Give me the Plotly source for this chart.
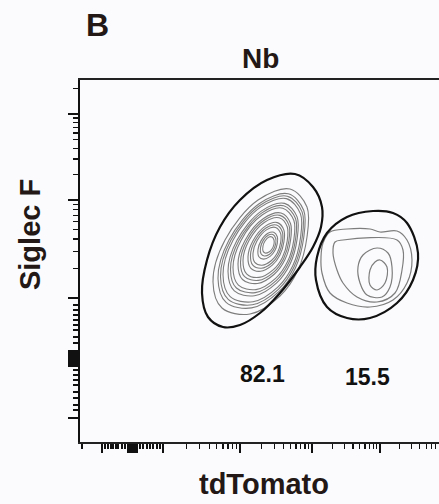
import numpy as np
import plotly.graph_objects as go

# ---------------- data (display channel units) ----------------
panel_letter = "B"
panel_title = "Nb"
x_title = "tdTomato"
y_title = "Siglec F"
gate_percent = [82.1, 15.5]

# gate outlines
gate1_x = [215, 233, 242, 241, 233, 220, 200, 180, 160, 143, 128, 122, 127, 140, 160, 187]
gate1_y = [268, 255, 235, 215, 195, 175, 149, 129, 117, 115, 125, 149, 182, 215, 242, 262]
gate2_x = [293, 313, 327, 338, 333, 317, 290, 267, 247, 236, 237, 247, 267]
gate2_y = [231, 229, 219, 189, 162, 139, 124, 124, 135, 162, 185, 209, 225]

# contour levels, population 1 (tdTomato-)
big_rings_x = [
    [210, 227, 227, 218, 200, 170, 142, 133, 145, 178],
    [208.2, 223.7, 223.7, 215.4, 198.9, 171.5, 146.1, 138, 149, 179.1],
    [207.3, 222.1, 222.1, 214.1, 198.4, 172.3, 148.2, 140.5, 151, 179.7],
    [206.4, 220.4, 220.4, 212.8, 197.8, 173, 150.2, 143, 153, 180.2],
    [204.6, 217.1, 217.1, 210.2, 196.7, 174.5, 154.3, 148, 157, 181.3],
    [203.7, 215.5, 215.5, 208.9, 196.2, 175.3, 156.4, 150.5, 159, 181.9],
    [202.8, 213.8, 213.8, 207.6, 195.6, 176, 158.4, 153, 161, 182.4],
    [201, 210.5, 210.5, 205, 194.5, 177.5, 162.5, 158, 165, 183.5],
    [200.1, 208.9, 208.9, 203.7, 194, 178.3, 164.6, 160.5, 167, 184.1],
    [199.2, 207.2, 207.2, 202.4, 193.4, 179, 166.6, 163, 169, 184.6],
    [197.4, 203.9, 203.9, 199.8, 192.3, 180.5, 170.7, 168, 173, 185.7],
    [196.5, 202.3, 202.3, 198.5, 191.8, 181.3, 172.8, 170.5, 175, 186.3],
    [195.6, 200.6, 200.6, 197.2, 191.2, 182, 174.8, 173, 177, 186.8],
    [193.8, 197.3, 197.3, 194.6, 190.1, 183.5, 178.9, 178, 181, 187.9],
    [192.9, 195.7, 195.7, 193.3, 189.6, 184.3, 181, 180.5, 183, 188.5],
    [192, 194, 194, 192, 189, 185, 183, 183, 185, 189],
]
big_rings_y = [
    [253, 235, 205, 172, 146, 128, 134, 160, 202, 242],
    [248.2, 231.7, 204.3, 174.1, 150.4, 134.1, 139.7, 163.6, 201.9, 238.3],
    [245.8, 230.1, 204, 175.2, 152.6, 137.2, 142.6, 165.4, 201.9, 236.5],
    [243.4, 228.4, 203.6, 176.2, 154.8, 140.2, 145.4, 167.2, 201.8, 234.6],
    [238.6, 225.1, 202.9, 178.3, 159.2, 146.3, 151.1, 170.8, 201.7, 230.9],
    [236.2, 223.5, 202.6, 179.4, 161.4, 149.4, 154, 172.6, 201.7, 229.1],
    [233.8, 221.8, 202.2, 180.4, 163.6, 152.4, 156.8, 174.4, 201.6, 227.2],
    [229, 218.5, 201.5, 182.5, 168, 158.5, 162.5, 178, 201.5, 223.5],
    [226.6, 216.9, 201.2, 183.6, 170.2, 161.6, 165.4, 179.8, 201.5, 221.7],
    [224.2, 215.2, 200.8, 184.6, 172.4, 164.6, 168.2, 181.6, 201.4, 219.8],
    [219.4, 211.9, 200.1, 186.7, 176.8, 170.7, 173.9, 185.2, 201.3, 216.1],
    [217, 210.3, 199.8, 187.8, 179, 173.8, 176.8, 187, 201.3, 214.3],
    [214.6, 208.6, 199.4, 188.8, 181.2, 176.8, 179.6, 188.8, 201.2, 212.4],
    [209.8, 205.3, 198.7, 190.9, 185.6, 182.9, 185.3, 192.4, 201.1, 208.7],
    [207.4, 203.7, 198.4, 192, 187.8, 186, 188.2, 194.2, 201.1, 206.9],
    [205, 202, 198, 193, 190, 189, 191, 196, 201, 205],
]

# contour levels, population 2 (tdTomato+)
small_rings_x = [
    [243, 250, 267, 290, 300, 317, 327, 332, 327, 313, 290, 267, 250, 242, 241],
    [255, 263, 317, 323, 322, 315, 297, 277, 263, 257, 253],
    [297, 308, 312, 310, 302, 287, 280, 278, 283],
    [300, 307, 305, 297, 290, 290, 295],
]
small_rings_y = [
    [199, 210, 213, 213, 210, 211, 202, 182, 159, 142, 135, 139, 149, 169, 185],
    [200, 202, 202, 192, 172, 149, 140, 145, 159, 172, 189],
    [194, 189, 175, 155, 145, 147, 159, 175, 187],
    [182, 175, 159, 152, 157, 172, 180],
]

# axis ticks (display channel units, biexponential display)
x_decades = [83, 160, 232, 300, 366]
x_zero_block = list(range(48, 58))
x_linear_minor = [2, 25, 28, 31, 33, 36, 38, 42, 45, 60, 63, 67, 70, 73, 77, 80]
y_decades = [144, 242, 328, 414]
y_zero_block = list(range(76, 92))
y_linear_minor = [137, 132, 127, 122, 117, 112, 105, 99, 72, 67, 62, 57, 50, 44, 37, 32]
x_neg_major = [22]
y_neg_major = [24]

X_MAX, Y_MAX = 359, 362


def log_minor(decades, vmax):
    out = []
    for lo, hi in zip(decades[:-1], decades[1:]):
        for m in range(2, 10):
            v = lo + np.log10(m) * (hi - lo)
            if v <= vmax:
                out.append(float(v))
    return out


x_major = [v for v in x_neg_major + x_zero_block + x_decades if v <= X_MAX]
y_major = [v for v in y_neg_major + y_zero_block + y_decades if v <= Y_MAX]
x_minor = x_linear_minor + log_minor(x_decades, X_MAX)
y_minor = y_linear_minor + log_minor(y_decades, Y_MAX)


def closed(xs, ys):
    return list(xs) + [xs[0]], list(ys) + [ys[0]]


fig = go.Figure()

for rx, ry in zip(big_rings_x, big_rings_y):
    cx, cy = closed(rx, ry)
    fig.add_trace(go.Scatter(x=cx, y=cy, mode="lines",
                             line=dict(color="#7d7d7d", width=1.1, shape="spline", smoothing=1.0),
                             hoverinfo="skip", showlegend=False))
for rx, ry in zip(small_rings_x, small_rings_y):
    cx, cy = closed(rx, ry)
    fig.add_trace(go.Scatter(x=cx, y=cy, mode="lines",
                             line=dict(color="#7d7d7d", width=1.2, shape="spline", smoothing=1.0),
                             hoverinfo="skip", showlegend=False))
for gx, gy in [(gate1_x, gate1_y), (gate2_x, gate2_y)]:
    cx, cy = closed(gx, gy)
    fig.add_trace(go.Scatter(x=cx, y=cy, mode="lines",
                             line=dict(color="#111111", width=2.2, shape="spline", smoothing=1.0),
                             hoverinfo="skip", showlegend=False))

label_pos = [(182, 68), (287, 65)]
for pct, (lx, ly) in zip(gate_percent, label_pos):
    fig.add_annotation(x=lx, y=ly, xref="x", yref="y", text=f"<b>{pct:.1f}</b>", showarrow=False,
                       font=dict(family="Liberation Sans, Arial", size=23, color="#111111"))

txt_color = "#231815"
fig.add_annotation(x=0.011, y=1.153, xref="paper", yref="paper", xanchor="left", yanchor="middle",
                   text=f"<b>{panel_letter}</b>", showarrow=False,
                   font=dict(family="Liberation Sans, Arial", size=32, color=txt_color))
fig.add_annotation(x=0.503, y=1.059, xref="paper", yref="paper", xanchor="center", yanchor="middle",
                   text=f"<b>{panel_title}</b>", showarrow=False,
                   font=dict(family="Liberation Sans, Arial", size=28, color=txt_color))
fig.add_annotation(x=-0.139, y=0.572, xref="paper", yref="paper", xanchor="center", yanchor="middle",
                   text=f"<b>{y_title}</b>", textangle=-90, showarrow=False,
                   font=dict(family="Liberation Sans, Arial", size=29, color=txt_color))
fig.add_annotation(x=0.5125, y=-0.116, xref="paper", yref="paper", xanchor="center", yanchor="middle",
                   text=f"<b>{x_title}</b>", showarrow=False,
                   font=dict(family="Liberation Sans, Arial", size=29, color=txt_color))

axis_common = dict(showgrid=False, zeroline=False, showticklabels=False, ticks="outside",
                   tickcolor="#111111", tickmode="array", fixedrange=True)

fig.update_xaxes(range=[0, X_MAX], tickvals=x_major, ticklen=9, tickwidth=2.5,
                 showline=True, linecolor="#222222", linewidth=1.6, mirror=True,
                 minor=dict(tickvals=x_minor, ticks="outside", ticklen=5, tickwidth=1.2,
                            tickcolor="#111111", showgrid=False),
                 **axis_common)
fig.update_yaxes(range=[0, Y_MAX], tickvals=y_major, ticklen=10, tickwidth=2.5,
                 showline=True, linecolor="#111111", linewidth=2, mirror=False,
                 minor=dict(tickvals=y_minor, ticks="outside", ticklen=5, tickwidth=1.2,
                            tickcolor="#111111", showgrid=False),
                 **axis_common)

bg = "#fbfbfd"
fig.update_layout(width=439, height=504, margin=dict(l=80, r=0, t=80, b=62),
                  paper_bgcolor=bg, plot_bgcolor=bg, showlegend=False, hovermode=False)

fig.write_html("out.html", config={"displayModeBar": False, "staticPlot": True},
               post_script="document.body.style.margin='0';document.body.style.overflow='hidden';"
                           "document.body.style.background='" + bg + "';")
